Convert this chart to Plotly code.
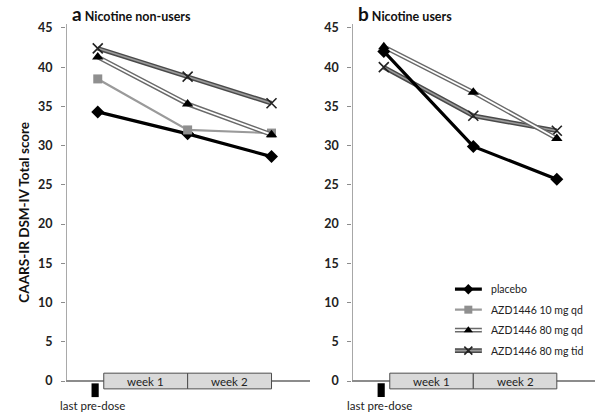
import plotly.graph_objects as go

# ---------------- data ----------------
days = [-0.5, 7, 14]                      # last pre-dose, end week 1, end week 2
series_names = ["placebo", "AZD1446 10 mg qd", "AZD1446 80 mg qd", "AZD1446 80 mg tid"]

nonusers_placebo = [34.3, 31.5, 28.6]
nonusers_10qd = [38.5, 32.0, 31.6]
nonusers_80qd = [41.3, 35.3, 31.4]
nonusers_80tid = [42.4, 38.8, 35.4]

users_placebo = [42.0, 29.9, 25.7]
users_80qd = [42.6, 36.8, 30.9]
users_80tid = [40.0, 33.8, 31.9]

y_ticks = [0, 5, 10, 15, 20, 25, 30, 35, 40, 45]
week_labels = ["week 1", "week 2"]
week_bounds = [0, 7, 14]
predose_label = "last pre-dose"
panel_letters = ["a", "b"]
panel_titles = ["Nicotine non-users", "Nicotine users"]
y_title = "CAARS-IR DSM-IV Total score"

# ---------------- styles ----------------
FONT = "Lato"
AX = "#8c8c8c"
styles = {
    "placebo": dict(outer=("#000000", 3.2), inner=None,
                    marker=dict(symbol="diamond", size=10, color="#000000")),
    "AZD1446 10 mg qd": dict(outer=("#9a9a9a", 2.2), inner=None,
                             marker=dict(symbol="square", size=9, color="#8f8f8f")),
    "AZD1446 80 mg qd": dict(outer=("#6a6a6a", 4.6), inner=("#ffffff", 1.8),
                             marker=dict(symbol="triangle-up", size=10, color="#000000")),
    "AZD1446 80 mg tid": dict(outer=("#4a4a4a", 4.6), inner=("#9a9a9a", 1.6),
                              marker=dict(symbol="x-thin", size=10,
                                          line=dict(color="#222222", width=1.6), color="#222222")),
}

fig = go.Figure()


def add_series(name, xs, ys, xa, ya, mx=None, my=None, msize=None):
    st = styles[name]
    c, w = st["outer"]
    fig.add_trace(go.Scatter(x=xs, y=ys, mode="lines", line=dict(color=c, width=w),
                             xaxis=xa, yaxis=ya, showlegend=False, hoverinfo="skip", cliponaxis=False))
    if st["inner"]:
        c2, w2 = st["inner"]
        fig.add_trace(go.Scatter(x=xs, y=ys, mode="lines", line=dict(color=c2, width=w2),
                                 xaxis=xa, yaxis=ya, showlegend=False, hoverinfo="skip", cliponaxis=False))
    mk = dict(st["marker"])
    if msize:
        mk["size"] = msize
    fig.add_trace(go.Scatter(x=mx if mx is not None else xs, y=my if my is not None else ys,
                             mode="markers", marker=mk, name=name,
                             xaxis=xa, yaxis=ya, showlegend=False, cliponaxis=False))


# panel a
for nm, vals in zip(series_names, [nonusers_placebo, nonusers_10qd, nonusers_80qd, nonusers_80tid]):
    add_series(nm, days, vals, "x", "y")
# panel b
for nm, vals in [("AZD1446 80 mg tid", users_80tid), ("AZD1446 80 mg qd", users_80qd),
                 ("placebo", users_placebo)]:
    add_series(nm, days, vals, "x2", "y2")

# manual legend on an overlay axis
leg_rows = [3.5, 2.5, 1.5, 0.5]
for nm, ry in zip(series_names, leg_rows):
    add_series(nm, [0, 27], [ry, ry], "x3", "y3", mx=[13.5], my=[ry], msize=8)
    fig.add_annotation(x=34, y=ry, xref="x3", yref="y3", text=nm, showarrow=False,
                       xanchor="left", yanchor="middle",
                       font=dict(family=FONT, size=10.5, color="#222222"))

# ---------------- axes ----------------
xr = [-3.15, 17.2]
yr = [-2.42, 45.5]
common_x = dict(range=xr, showgrid=False, zeroline=False, showline=False, showticklabels=False,
                ticks="", fixedrange=True)
common_y = dict(range=yr, showgrid=False, zeroline=True, zerolinecolor=AX, zerolinewidth=1.5,
                showline=False, tickmode="array", tickvals=y_ticks, ticks="outside", ticklen=4,
                tickcolor=AX, tickwidth=1.2,
                tickfont=dict(family=FONT, size=12.5, color="#222222", weight="bold"),
                ticklabelstandoff=6, fixedrange=True)

fig.update_layout(
    width=600, height=414,
    margin=dict(l=66, r=5, t=24, b=14),
    paper_bgcolor="white", plot_bgcolor="white",
    xaxis=dict(domain=[0, 0.461], anchor="y", **common_x),
    xaxis2=dict(domain=[0.541, 1], anchor="y2", **common_x),
    yaxis=dict(domain=[0, 1], anchor="x", **common_y),
    yaxis2=dict(domain=[0, 1], anchor="x2", **common_y),
    xaxis3=dict(domain=[0.735, 1.0], range=[0, 140], visible=False, anchor="y3", fixedrange=True),
    yaxis3=dict(domain=[0.104, 0.322], range=[0, 4], visible=False, anchor="x3", fixedrange=True),
    showlegend=False,
)

shapes = []
for xa, ya in [("x", "y"), ("x2", "y2")]:
    shapes.append(dict(type="line", xref=xa, yref=ya, x0=xr[0], x1=xr[0], y0=0, y1=yr[1],
                       line=dict(color=AX, width=1.5), layer="below"))
    for i in range(len(week_labels)):
        shapes.append(dict(type="rect", xref=xa, yref=ya, x0=week_bounds[i], x1=week_bounds[i + 1],
                           y0=-1.0, y1=1.0, fillcolor="#d9d9d9",
                           line=dict(color="#4d4d4d", width=1), layer="above"))
        fig.add_annotation(x=(week_bounds[i] + week_bounds[i + 1]) / 2, y=0, xref=xa, yref=ya,
                           text=week_labels[i], showarrow=False,
                           font=dict(family=FONT, size=11.5, color="#222222"))
    shapes.append(dict(type="rect", xref=xa, yref=ya, x0=-1.02, x1=-0.42, y0=-2.05, y1=-0.3,
                       fillcolor="#000000", line=dict(width=0)))
    fig.add_annotation(x=-0.9, y=-2.1, xref=xa, yref=ya, text=predose_label, showarrow=False,
                       yanchor="top", font=dict(family=FONT, size=11.5, color="#222222"))
fig.update_layout(shapes=shapes)

# panel titles
fig.add_annotation(x=0.008, y=1.0, xref="paper", yref="paper", yanchor="bottom", xanchor="left",
                   yshift=-3, showarrow=False,
                   text=f"<b><span style='font-size:19px'>{panel_letters[0]}</span> {panel_titles[0]}</b>",
                   font=dict(family=FONT, size=12.5, color="#111111"))
fig.add_annotation(x=0.549, y=1.0, xref="paper", yref="paper", yanchor="bottom", xanchor="left",
                   yshift=-3, showarrow=False,
                   text=f"<b><span style='font-size:19px'>{panel_letters[1]}</span> {panel_titles[1]}</b>",
                   font=dict(family=FONT, size=12.5, color="#111111"))

# y axis title
fig.add_annotation(x=-0.099, y=0.5, xref="paper", yref="paper", textangle=-90, showarrow=False,
                   text=f"<b>{y_title}</b>", font=dict(family=FONT, size=13.5, color="#111111"))

fig.write_html("out.html", config={"displayModeBar": False},
               post_script="document.body.style.margin='0px';")
